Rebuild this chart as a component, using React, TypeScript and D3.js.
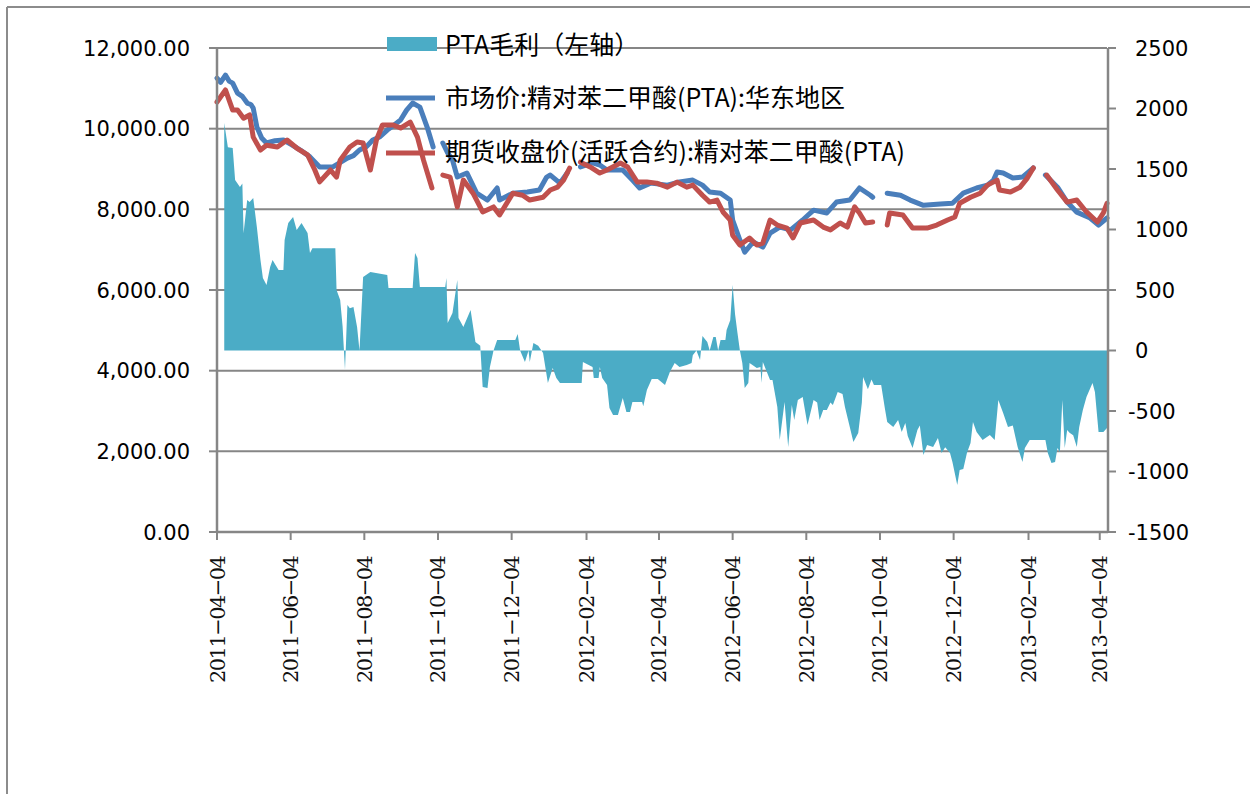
import * as d3 from "d3";

// dates are given as day offsets from the first axis date (2011-04-04)
const START = "2011-04-04";
const END_OFFSET = 737;

const xTickLabels = [
  "2011-04-04", "2011-06-04", "2011-08-04", "2011-10-04", "2011-12-04",
  "2012-02-04", "2012-04-04", "2012-06-04", "2012-08-04", "2012-10-04",
  "2012-12-04", "2013-02-04", "2013-04-04",
];
const leftTicks = [0, 2000, 4000, 6000, 8000, 10000, 12000];
const rightTicks = [-1500, -1000, -500, 0, 500, 1000, 1500, 2000, 2500];

const legendLabels = [
  "PTA毛利（左轴）",
  "市场价:精对苯二甲酸(PTA):华东地区",
  "期货收盘价(活跃合约):精对苯二甲酸(PTA)",
];

// 市场价:精对苯二甲酸(PTA):华东地区
const spotDays = [
  0, 3, 7, 10, 13, 17, 21, 25, 28, 30, 33, 37, 41, 48, 55, 62, 69, 77, 85, 96, 108, 113, 118, 124, 129, 135, 141, 147, 152, 157,
  162, 168, 174, 179, 182, 187, 191, 195, 199, 207, 211, 215, 224, 232, 234, 245, 257, 267, 273, 276, 284, 290,
  295, 301, 311, 317, 323, 336, 344, 350, 359, 373, 383, 394, 402, 408, 417, 425, 427, 433, 437, 444, 452,
  458, 466, 475, 485, 494, 505, 513, 524, 532, 541, 543, 548, 555, 566, 574, 585, 599, 609, 618, 629,
  638, 643, 646, 651, 659, 667, 676, 680, 686, 696, 704, 712, 723, 730, 737,
];
const spotValues = [
  11255, 11150, 11330, 11180, 11130, 10880, 10800, 10635, 10600, 10510, 10040, 9770, 9645, 9700, 9720, 9600, 9470, 9300, 9050, 9050, 9270, 9330, 9470, 9560, 9720, 9800, 9965, 10100, 10215, 10460,
  10635, 10535, 10040, 9545, null, 9645, 9400, 9220, 8800, 8900, 8650, 8400, 8230, 8530, 8230, 8400, 8430, 8480, 8800, 8850, 8650, 8900,
  null, 9050, 9150, 9100, 8975, 8975, 8725, 8530, 8650, 8600, 8680, 8725, 8600, 8430, 8400, 8230, 7735, 7240, 6940, 7190, 7065,
  7410, 7560, 7490, 7735, 7980, 7910, 8180, 8230, 8530, 8350, 8300, null, 8400, 8350, 8230, 8100, 8130, 8150, 8400, 8530,
  8600, 8725, 8925, 8900, 8775, 8800, 9025, null, 8850, 8550, 8180, 7930, 7785, 7610, 7785,
];

// 期货收盘价(活跃合约):精对苯二甲酸(PTA)
const futDays = [
  0, 7, 13, 17, 22, 27, 30, 36, 41, 50, 58, 66, 75, 81, 85, 94, 99, 102, 110, 116,
  121, 127, 132, 137, 146, 152, 160, 166, 171, 178, 182, 187, 193, 199, 204, 212, 220, 229, 234, 245,
  253, 259, 270, 276, 282, 287, 292, 295, 301, 309, 317, 323, 334, 340, 348, 356, 364, 373, 381, 389,
  394, 402, 408, 414, 419, 425, 427, 433, 441, 447, 452, 458, 464, 472, 477, 483, 494, 502, 508, 516,
  522, 528, 532, 537, 543, 548, 555, 557, 568, 576, 588, 596, 605, 611, 615, 624, 632, 638, 646, 648,
  657, 665, 671, 676, 680, 687, 696, 704, 712, 720, 729, 734, 737,
];
const futValues = [
  10660, 10960, 10460, 10460, 10260, 10340, 9790, 9470, 9590, 9545, 9720, 9520, 9350, 8975, 8680, 8975, 8800, 9220, 9545, 9670,
  9645, 8975, 9720, 10090, 10090, 10015, 10165, 9790, 9220, 8530, null, 8850, 8800, 8060, 8725, 8400, 7935, 8060, 7860, 8400,
  8350, 8230, 8300, 8480, 8550, 8725, 9020, null, 9170, 9050, 8900, 8975, 9150, 9050, 8675, 8675, 8650, 8550, 8675, 8550,
  8600, 8350, 8180, 8230, 7935, 7735, 7360, 7115, 7290, 7115, 7165, 7735, 7610, 7535, 7290, 7660, 7735, 7560, 7490, 7660,
  7560, 8060, 7910, 7660, 7685, null, 7610, 7910, 7860, 7535, 7535, 7610, 7735, 7810, 8150, 8300, 8400, 8600, 8725, 8480,
  8430, 8550, 8775, 9025, null, 8850, 8480, 8180, 8230, 7935, 7685, 7910, 8150,
];

// PTA毛利（按右轴刻度）
const marginDays = [
  6, 9, 13, 15, 19, 21, 22, 25, 27, 30, 33, 36, 38, 41, 44, 46, 51, 55, 56, 59,
  63, 66, 70, 75, 77, 79, 98, 99, 102, 104, 106, 108, 110, 113, 116, 118, 121, 127, 141, 142,
  162, 164, 166, 168, 189, 190, 191, 195, 199, 200, 204, 210, 214, 218, 220, 224, 226, 229, 232, 247,
  249, 251, 255, 258, 259, 262, 266, 270, 274, 278, 281, 284, 302, 303, 311, 312, 316, 317, 319, 323,
  325, 328, 332, 336, 339, 342, 344, 352, 353, 356, 360, 365, 371, 375, 379, 383, 389, 393, 394, 397,
  400, 402, 406, 408, 411, 413, 415, 417, 421, 422, 425, 427, 429, 431, 433, 435, 437, 440, 441, 447,
  450, 451, 452, 458, 460, 464, 466, 470, 473, 476, 478, 481, 485, 489, 494, 497, 499, 502, 505, 508,
  510, 514, 518, 520, 524, 527, 531, 534, 535, 539, 542, 544, 550, 553, 555, 560, 564, 567, 570, 572,
  576, 580, 582, 585, 588, 593, 597, 600, 603, 607, 609, 613, 615, 618, 621, 624, 626, 629, 634, 640,
  644, 647, 651, 655, 659, 663, 667, 669, 673, 686, 688, 691, 694, 696, 698, 700, 702, 704, 706, 709,
  712, 714, 717, 720, 725, 727, 730, 734, 737,
];
const marginValues = [
  1880, 1680, 1673, 1409, 1351, 1380, 970, 1244, 1227, 1260, 1020, 748, 600, 541, 690, 748, 665, 665, 913, 1054,
  1103, 996, 1054, 971, 806, 846, 846, 500, 417, 200, -160, 376, 350, 360, 194, 0, 607, 648, 623, 517,
  517, 806, 765, 525, 525, 600, 227, 310, 583, 269, 194, 335, 70, 40, -301, -310, -136, 0, 87, 87,
  136, 0, -95, 0, -95, 62, 40, -20, -269, -145, -227, -269, -269, -95, -136, -227, -227, -136, -227, -285,
  -475, -533, -533, -393, -508, -508, -425, -425, -460, -327, -236, -236, -285, -178, -103, -136, -120, -103, -40, 0,
  -78, 120, 70, 0, 112, 112, 0, 87, 87, 170, 250, 541, 300, 145, 0, -103, -310, -269, -103, -145,
  -136, -269, -95, -244, -244, -467, -740, -425, -798, -450, -574, -409, -384, -616, -409, -430, -574, -491, -491, -430,
  -450, -343, -360, -467, -632, -756, -682, -430, -218, -320, -240, -285, -285, -475, -591, -632, -574, -673, -599, -706,
  -805, -657, -620, -863, -781, -798, -723, -847, -800, -847, -921, -1111, -987, -980, -847, -764, -591, -673, -740, -698,
  -740, -409, -516, -632, -620, -798, -921, -805, -740, -740, -847, -929, -921, -805, -840, -409, -805, -657, -680, -700,
  -798, -632, -491, -384, -269, -343, -673, -673, -640,
];

const AREA_COLOR = "#4BACC6";
const SPOT_COLOR = "#4A7EBB";
const FUT_COLOR = "#C0504D";
const AXIS_COLOR = "#868686";

type Pt = { date: Date; v: number | null };

const parse = d3.timeParse("%Y-%m-%d");
const start = parse(START) as Date;
const toPoints = (days: number[], values: (number | null)[]): Pt[] =>
  days.map((d, i) => ({ date: d3.timeDay.offset(start, d), v: values[i] }));

export default function App() {
  const W = 1250;
  const H = 794;
  const plot = { left: 217, right: 1107, top: 48, bottom: 532 };

  const x = d3
    .scaleTime()
    .domain([start, d3.timeDay.offset(start, END_OFFSET)])
    .range([plot.left, plot.right]);
  const yL = d3.scaleLinear().domain([0, 12000]).range([plot.bottom, plot.top]);
  const yR = d3.scaleLinear().domain([-1500, 2500]).range([plot.bottom, plot.top]);

  const spot = toPoints(spotDays, spotValues);
  const fut = toPoints(futDays, futValues);
  const margin = toPoints(marginDays, marginValues);

  const area = d3
    .area<Pt>()
    .x((d) => x(d.date))
    .y0(yR(0))
    .y1((d) => yR(d.v as number));

  const line = d3
    .line<Pt>()
    .defined((d) => d.v != null)
    .x((d) => x(d.date))
    .y((d) => yL(d.v as number));

  const fmtLeft = d3.format(",.2f");
  const sans = "DejaVu Sans, sans-serif";
  const serif = "DejaVu Serif, Liberation Serif, serif";
  const cjk = "Noto Sans CJK SC, DejaVu Sans, sans-serif";

  return (
    <svg width={W} height={H} style={{ position: "absolute", left: 0, top: 0, background: "#fff" }}>
      {/* outer frame */}
      <line x1={7} y1={7} x2={W} y2={7} stroke="#8c8c8c" strokeWidth={2} />
      <line x1={7} y1={7} x2={7} y2={H} stroke="#8c8c8c" strokeWidth={2} />

      {/* gridlines */}
      {leftTicks.map((t) => (
        <line key={`g${t}`} x1={plot.left} x2={plot.right} y1={yL(t)} y2={yL(t)} stroke={AXIS_COLOR} strokeWidth={2} />
      ))}

      {/* margin area */}
      <path d={area(margin) ?? ""} fill={AREA_COLOR} />

      {/* lines */}
      <path d={line(spot) ?? ""} fill="none" stroke={SPOT_COLOR} strokeWidth={5} strokeLinejoin="round" strokeLinecap="round" />
      <path d={line(fut) ?? ""} fill="none" stroke={FUT_COLOR} strokeWidth={5} strokeLinejoin="round" strokeLinecap="round" />

      {/* left axis */}
      <line x1={plot.left} x2={plot.left} y1={plot.top} y2={plot.bottom} stroke={AXIS_COLOR} strokeWidth={2.5} />
      {leftTicks.map((t) => (
        <g key={`l${t}`}>
          <line x1={plot.left - 8} x2={plot.left} y1={yL(t)} y2={yL(t)} stroke={AXIS_COLOR} strokeWidth={2} />
          <text x={190} y={yL(t)} dy="0.36em" textAnchor="end" fontFamily={sans} fontSize={21} fill="#000">
            {fmtLeft(t)}
          </text>
        </g>
      ))}

      {/* right axis */}
      <line x1={plot.right + 1} x2={plot.right + 1} y1={plot.top} y2={plot.bottom} stroke={AXIS_COLOR} strokeWidth={2.5} />
      {rightTicks.map((t) => (
        <g key={`r${t}`}>
          <line x1={plot.right + 1} x2={plot.right + 9} y1={yR(t)} y2={yR(t)} stroke={AXIS_COLOR} strokeWidth={2} />
          <text x={t < 0 ? 1128 : 1135} y={yR(t)} dy="0.36em" textAnchor="start" fontFamily={sans} fontSize={21} fill="#000">
            {t}
          </text>
        </g>
      ))}

      {/* bottom axis */}
      <line x1={plot.left} x2={plot.right + 1} y1={plot.bottom} y2={plot.bottom} stroke={AXIS_COLOR} strokeWidth={2.5} />
      {xTickLabels.map((lab) => {
        const px = x(parse(lab) as Date);
        return (
          <g key={lab}>
            <line x1={px} x2={px} y1={plot.bottom} y2={plot.bottom + 8} stroke={AXIS_COLOR} strokeWidth={2} />
            <text
              transform={`translate(${px + 7.5}, 555) rotate(-90)`}
              textAnchor="end"
              fontFamily={serif}
              fontSize={21}
              fontWeight={300}
              textLength={128}
              lengthAdjust="spacing"
              fill="#111"
            >
              {lab.replace(/-/g, "\u2212")}
            </text>
          </g>
        );
      })}

      {/* legend */}
      <rect x={387} y={37} width={50} height={14} fill={AREA_COLOR} />
      <line x1={386} x2={435} y1={98} y2={98} stroke={SPOT_COLOR} strokeWidth={5} />
      <line x1={386} x2={435} y1={153} y2={153} stroke={FUT_COLOR} strokeWidth={5} />
      {legendLabels.map((lab, i) => (
        <text key={lab} x={445} y={[45, 98, 152][i]} dy="0.36em" fontFamily={cjk} fontSize={25} fill="#000">
          {lab}
        </text>
      ))}
    </svg>
  );
}
